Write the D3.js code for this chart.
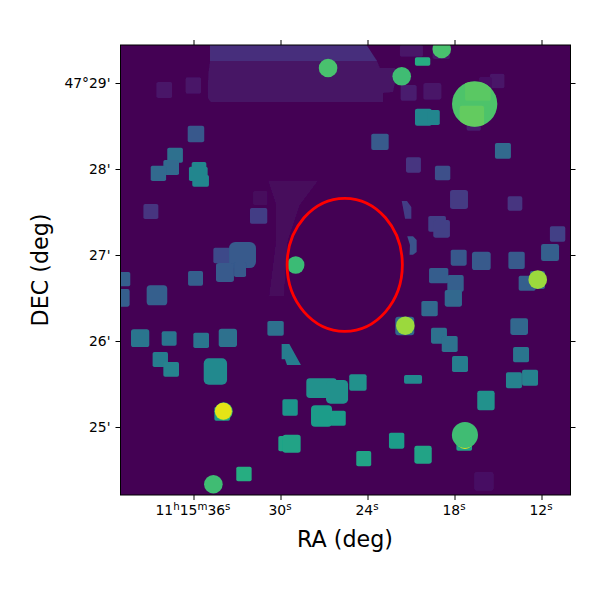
<!DOCTYPE html>
<html><head><meta charset="utf-8">
<script src="https://cdn.jsdelivr.net/npm/d3@7/dist/d3.min.js"></script>
<style>html,body{margin:0;padding:0;background:#fff}svg{display:block}text{font-family:"DejaVu Sans",sans-serif;fill:#000}</style>
</head><body><div id="c"></div>
<script>
// --- axis ticks ---
const raTicks = [36,30,24,18,12];
const raTickLabels = [["11","h","15","m","36","s"],["30","s"],["24","s"],["18","s"],["12","s"]];
const decTicks = [29,28,27,26,25];
const decTickLabels = ["47°29'","28'","27'","26'","25'"];
const xTitle = "RA (deg)", yTitle = "DEC (deg)";

// --- square sky cells: RA (s), DEC (arcmin past 47°), size in RA s / arcmin, level 0..1 ---
const cellRa  = [38.02,36.01,35.83,37.27,37.54,38.42,35.62,35.67,35.51,38.94,31.51,31.39,34.03,32.62,33.83,32.79,
 20.97,20.20,18.91,21.16,19.53,15.06,15.86,16.67,20.15,19.43,23.14,14.66,20.83,18.82,17.69,13.83,10.89,11.41,19.20,18.89,17.71,16.15,13.72,19.09,17.93,18.08,19.72,21.43,19.07,18.33,17.62,13.54,13.41,13.90,12.79,12.99,12.28,20.86,24.66,15.83,21.99,20.17,24.26,17.33,15.97,
 40.93,40.98,38.52,35.86,30.34,39.68,37.68,35.47,33.63,38.29,37.54,34.49,29.34,34.02,27.17,26.10,27.17,26.04,29.69,29.23,32.52];
const cellDec = [28.919,28.971,28.407,28.160,28.017,27.949,27.997,27.944,27.862,27.506,27.455,27.663,26.994,27.0,26.797,26.831,
 29.374,29.25,29.36,28.885,28.903,29.023,28.983,28.537,28.602,28.599,28.316,28.211,28.047,27.953,27.645,27.599,27.244,27.029,27.362,27.304,26.969,26.932,26.938,26.76,26.67,26.496,26.376,26.174,26.062,25.965,25.733,26.167,25.841,25.543,25.573,26.672,26.709,25.554,25.517,25.308,24.841,24.678,24.632,24.81,24.368,
 26.719,26.502,26.531,26.728,26.147,26.033,26.029,26.008,26.037,25.785,25.670,25.645,25.227,25.155,25.452,25.409,25.128,25.102,24.806,24.806,24.453];
const cellW   = [1.08,1.06,1.14,1.08,1.08,1.06,1.01,1.29,1.15,1.03,1.19,1.01,1.2,1.86,1.24,.83,
 1.59,1.06,1.19,1.1,1.24,.99,.9,.99,1.15,.83,1.2,1.1,1.03,1.06,1.24,1.01,1.06,1.24,1.22,1.15,1.1,1.29,1.13,1.33,1.13,1.19,1.13,1.31,1.1,1.1,1.1,1.22,1.1,1.1,1.1,1.17,1.03,1.24,1.2,1.2,1.06,1.2,1.03,1.08,1.34,
 1.14,1.15,1.42,1.03,1.13,1.26,1.03,1.08,1.26,1.06,1.08,1.61,1.06,1.08,2.1,1.52,1.45,1.08,.92,1.24,1.06];
const cellH   = [.186,.191,.193,.174,.174,.178,.171,.166,.136,.174,.183,.163,.181,.302,.221,.174,
 .136,.098,.163,.183,.194,.17,.174,.183,.198,.174,.19,.183,.179,.17,.221,.167,.179,.198,.183,.206,.186,.213,.201,.178,.194,.194,.178,.216,.186,.186,.186,.194,.178,.186,.186,.174,.209,.101,.191,.228,.186,.209,.178,.171,.217,
 .166,.206,.233,.171,.171,.206,.167,.178,.213,.174,.171,.307,.191,.163,.229,.276,.249,.174,.178,.209,.17];
const cellLevel=[.055,.055,.27,.36,.34,.34,.46,.46,.46,.15,.18,.025,.22,.28,.28,.28,
 .055,.62,.055,.075,.055,.055,.04,.07,.46,.46,.28,.34,.15,.24,.17,.15,.19,.3,.19,.19,.27,.28,.28,.29,.3,.33,.34,.33,.37,.37,.42,.33,.39,.44,.44,.3,.3,.47,.5,.5,.55,.58,.58,.58,.045,
 .3,.3,.3,.3,.36,.39,.39,.39,.37,.42,.44,.47,.52,.55,.5,.5,.55,.55,.58,.58,.62];

// --- brighter cells inside the largest source ---
const innerRa=[16.38,16.80], innerDec=[28.905,28.614], innerW=[1.79,1.68], innerH=[.221,.244], innerLevel=[.745,.76];

// --- round sources: RA, DEC, radius (arcsec), level ---
const srcRa  =[17.28,26.72,28.95,18.88,21.64,16.61,21.39,12.26,17.28,34.63,33.92,33.94];
const srcDec =[24.849,29.174,26.884,29.395,29.078,28.756,26.178,26.713,24.907,24.334,25.183,25.183];
const srcR   =[6.3,6.5,6.1,6.5,6.5,15.8,6.5,6.5,9.1,6.5,6.3,5.9];
const srcLevel=[.96,.71,.68,.71,.69,.72,.85,.85,.69,.69,.7,.96];

// --- extended diffuse regions ---
const regionRa=[
 [34.86,24.06,23.48,23.34,34.86],
 [34.86,23.34,23.14,22.10,22.03,22.24,22.93,22.93,34.8,35.0,35.02,34.97],
 [30.86,27.41,28.66,29.48,29.76,30.79,30.31,30.31],
 [21.64,21.28,20.98,20.98,21.41],
 [21.26,20.86,20.61,20.61,20.86,21.10,21.07],
 [29.92,29.39,28.59,29.55,29.69,29.92]];
const regionDec=[
 [29.442,29.442,29.291,29.256,29.256],
 [29.256,29.256,29.174,29.174,29.058,28.895,28.884,28.779,28.779,28.82,28.95,29.12],
 [27.864,27.864,27.581,27.174,26.523,26.523,27.174,27.581],
 [27.628,27.628,27.558,27.422,27.422],
 [27.217,27.217,27.174,27.035,27.003,27.003,27.116],
 [25.965,25.965,25.721,25.721,25.787,25.787]];
const regionLevel=[.13,.05,.02,.18,.25,.42];

// --- aperture ellipse ---
const apRa=25.57, apDec=26.886, apRx=40.2, apRy=46.4;

const W=600,H=600,L=120.5,R=570.5,T=45,B=495;
const raLeft=36+(193.5-L)/14.5, raRight=36-(R-193.5)/14.5;
const decTop=29+(83-T)/86, decBot=29-(B-83)/86;
const x=d3.scaleLinear().domain([raLeft,raRight]).range([L,R]);
const y=d3.scaleLinear().domain([decTop,decBot]).range([T,B]);
const sx=s=>Math.abs(x(0)-x(s)), sy=m=>Math.abs(y(0)-y(m));
const arcsec=a=>sy(a/60);
const col=d3.interpolateViridis;

const svg=d3.select("#c").append("svg").attr("width",W).attr("height",H).attr("viewBox",[0,0,W,H]);
const defs=svg.append("defs");
defs.append("clipPath").attr("id","frame").append("rect").attr("x",L).attr("y",T).attr("width",R-L).attr("height",B-T);
defs.append("clipPath").attr("id","bigsrc").append("circle").attr("cx",x(srcRa[5])).attr("cy",y(srcDec[5])).attr("r",arcsec(srcR[5]));
defs.append("filter").attr("id","soft").attr("x","-2%").attr("y","-2%").attr("width","104%").attr("height","104%")
  .append("feGaussianBlur").attr("stdDeviation",0.3);

const plot=svg.append("g").attr("clip-path","url(#frame)");
plot.append("rect").attr("x",L).attr("y",T).attr("width",R-L).attr("height",B-T).attr("fill",col(0));
const img=plot.append("g").attr("filter","url(#soft)");

const line=d3.line();
img.selectAll("path.region").data(regionLevel).join("path").attr("class","region")
  .attr("d",(d,i)=>line(regionRa[i].map((r,j)=>[x(r),y(regionDec[i][j])]))+"Z")
  .attr("fill",d=>col(d));

const rnd=(wpx,hpx)=>1.8+Math.max(0,Math.min(wpx,hpx)-16)*0.45;
img.selectAll("rect.cell").data(cellLevel).join("rect").attr("class","cell")
  .attr("x",(d,i)=>x(cellRa[i]+cellW[i]/2))
  .attr("y",(d,i)=>y(cellDec[i]+cellH[i]/2))
  .attr("width",(d,i)=>sx(cellW[i]))
  .attr("height",(d,i)=>sy(cellH[i]))
  .attr("rx",(d,i)=>rnd(sx(cellW[i]),sy(cellH[i])))
  .attr("fill",d=>col(d));

img.selectAll("circle.src").data(srcLevel).join("circle").attr("class","src")
  .attr("cx",(d,i)=>x(srcRa[i])).attr("cy",(d,i)=>y(srcDec[i])).attr("r",(d,i)=>arcsec(srcR[i]))
  .attr("fill",d=>col(d));

img.append("g").attr("clip-path","url(#bigsrc)").selectAll("rect").data(innerLevel).join("rect")
  .attr("x",(d,i)=>x(innerRa[i]+innerW[i]/2))
  .attr("y",(d,i)=>y(innerDec[i]+innerH[i]/2))
  .attr("width",(d,i)=>sx(innerW[i]))
  .attr("height",(d,i)=>sy(innerH[i]))
  .attr("rx",2).attr("fill",d=>col(d));

plot.append("ellipse").attr("cx",x(apRa)).attr("cy",y(apDec)).attr("rx",arcsec(apRx)).attr("ry",arcsec(apRy))
  .attr("fill","none").attr("stroke","#f00").attr("stroke-width",2.8);

// axes
const fs=13.9;
const style=g=>{g.select(".domain").remove();g.selectAll(".tick line").attr("stroke","#000").attr("stroke-width",1);};
const axB=svg.append("g").attr("transform",`translate(0,${B})`)
  .call(d3.axisBottom(x).tickValues(raTicks).tickSize(5).tickPadding(5).tickFormat(()=>"")).call(style);
svg.append("g").attr("transform",`translate(0,${T})`)
  .call(d3.axisTop(x).tickValues(raTicks).tickSize(5).tickFormat(()=>"")).call(style);
svg.append("g").attr("transform",`translate(${L},0)`)
  .call(d3.axisLeft(y).tickValues(decTicks).tickSize(5).tickPadding(5).tickFormat((d,i)=>decTickLabels[i])).call(style)
  .selectAll("text").attr("font-size",fs).attr("font-family",'"DejaVu Sans"');
svg.append("g").attr("transform",`translate(${R},0)`)
  .call(d3.axisRight(y).tickValues(decTicks).tickSize(5).tickFormat(()=>"")).call(style);

axB.selectAll(".tick text").attr("font-size",fs).attr("font-family",'"DejaVu Sans"').attr("dy",null).attr("y",20)
  .attr("dx",-1)
  .each(function(d,i){
    const t=d3.select(this); t.text(null);
    raTickLabels[i].forEach((p,j)=>{
      const sup=j%2==1;
      const ts=t.append("tspan").text(p);
      if(sup) ts.attr("font-size",fs*0.74).attr("dy",-5.5);
      else if(j>0) ts.attr("dy",5.5);
    });
  });

svg.append("rect").attr("x",L).attr("y",T).attr("width",R-L).attr("height",B-T).attr("fill","none").attr("stroke","#000").attr("stroke-width",1);

svg.append("text").attr("x",345).attr("y",547).attr("text-anchor","middle").attr("font-size",22.2).text(xTitle);
svg.append("text").attr("transform","translate(47.5,270) rotate(-90)").attr("text-anchor","middle").attr("font-size",22.2).text(yTitle);
</script></body></html>
